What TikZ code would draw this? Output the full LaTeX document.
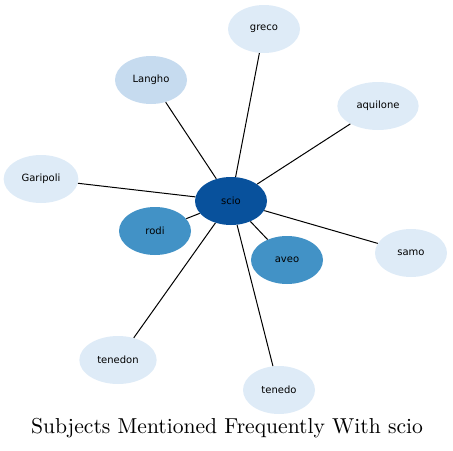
\documentclass[tikz,border=0pt]{standalone}
\usepackage{fontspec}
\newfontfamily\nodefont{DejaVu Sans}
\usepackage{tikz}
\usetikzlibrary{shapes,positioning,calc}

\definecolor{hub}{HTML}{08519C}
\definecolor{mid}{HTML}{4292C6}
\definecolor{soft}{HTML}{C6DBEF}
\definecolor{pale}{HTML}{DEEBF7}

\begin{document}
\begin{tikzpicture}[x=0.75pt, y=-0.75pt,
    subj/.style={ellipse, fill=pale, draw=none, minimum width=54pt, minimum height=36pt,
                 inner sep=1pt, font=\nodefont\fontsize{7.5}{8}\selectfont},
    link/.style={black, line width=0.75pt}]
    \useasboundingbox (0,0) rectangle (453,450);

    % Centre subject
    \node[subj, fill=hub] (scio) at (231,201) {scio};

    % Surrounding subjects
    \node[subj] (greco) at (264,29) {greco};
    \node[subj, fill=soft] (langho) at (151,80) {Langho};
    \node[subj, minimum width=61pt] (aquilone) at (378,106) {aquilone};
    \node[subj, minimum width=56pt] (garipoli) at (41,179) {Garipoli};
    \node[subj, fill=mid] (rodi) at (155,231) {rodi};
    \node[subj, fill=mid] (aveo) at (287,260) {aveo};
    \node[subj] (samo) at (411,253) {samo};
    \node[subj, minimum width=58pt] (tenedon) at (118,360) {tenedon};
    \node[subj] (tenedo) at (279,390) {tenedo};

    % Links from the centre
    \foreach \n in {greco,langho,aquilone,garipoli,rodi,aveo,samo,tenedon,tenedo}
        \draw[link] (scio) -- (\n);

    % Title
    \node (title) at (227,428) {\scalebox{1.62}{\normalsize Subjects Mentioned Frequently With scio}};
\end{tikzpicture}
\end{document}
